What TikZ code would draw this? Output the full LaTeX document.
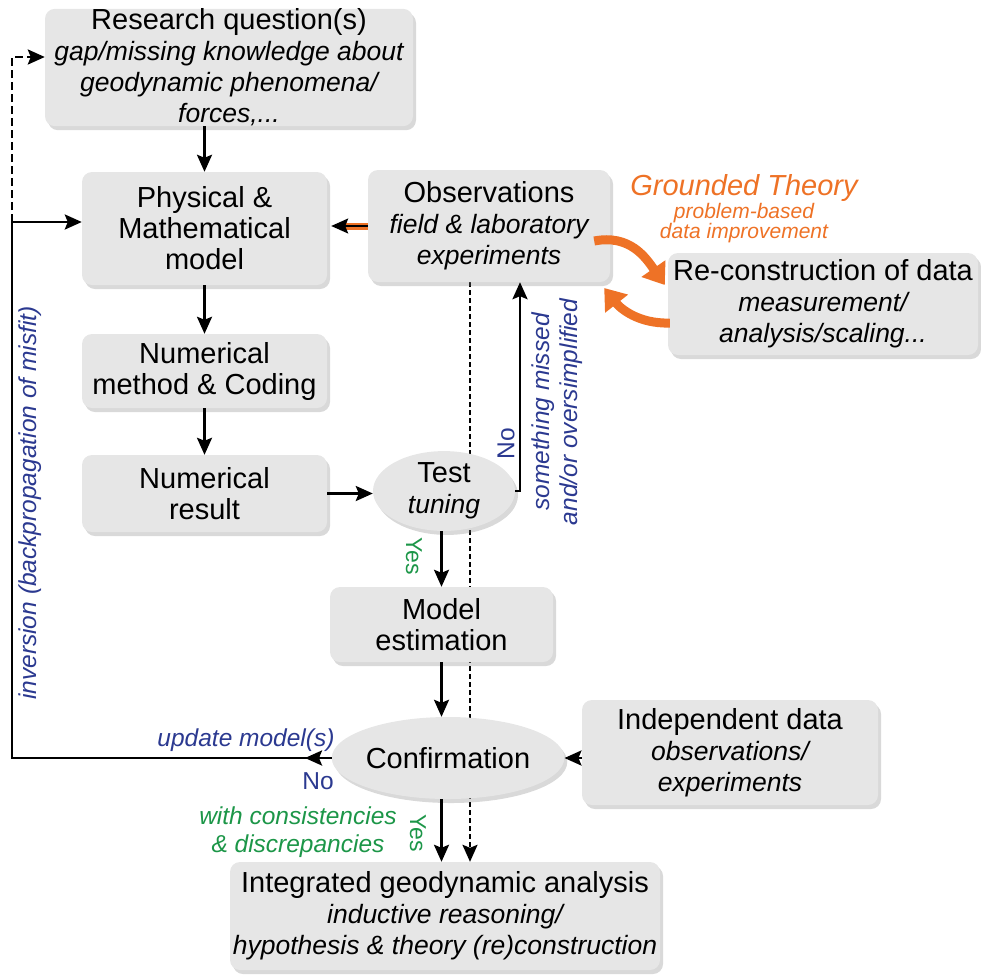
\documentclass[tikz,border=0pt]{standalone}
\usepackage{fontspec}
\setmainfont{Liberation Sans}
\usetikzlibrary{shapes.geometric,arrows.meta,shadows,backgrounds}
\definecolor{boxgray}{RGB}{230,230,230}
\definecolor{grorange}{RGB}{238,114,38}
\definecolor{lblblue}{RGB}{43,57,144}
\definecolor{lblgreen}{RGB}{28,150,72}
\newcommand{\mainsz}{\fontsize{29}{31}\selectfont}
\newcommand{\subln}[1]{{\itshape\fontsize{26.5}{30}\selectfont #1}}
\newcommand{\lblsz}{\fontsize{24.5}{28}\selectfont}

\begin{document}
\begin{tikzpicture}[x=1pt,y=-1pt]
    \tikzstyle{every node}+=[inner sep=0pt]
    \tikzstyle{gbox}=[fill=boxgray, rounded corners=10pt, align=center, font=\mainsz, drop shadow={shadow xshift=3pt, shadow yshift=-4pt, opacity=0.3}]
    \tikzstyle{goval}=[ellipse, fill=boxgray, align=center, font=\mainsz, drop shadow={shadow xshift=3pt, shadow yshift=-4pt, opacity=0.3}]
    \tikzstyle{flow}=[line width=2.6pt, -{Stealth[length=17pt,width=15pt,inset=3pt]}]
    \tikzstyle{bluelbl}=[text=lblblue, font=\lblsz\itshape]
    \tikzstyle{greenlbl}=[text=lblgreen, font=\lblsz\itshape]
    \useasboundingbox (0,0) rectangle (981,977);
    \node[gbox, minimum width=368, minimum height=111] (research) at (229,67.5) {Research question(s)\\\subln{gap/missing knowledge about}\\\subln{geodynamic phenomena/}\\\subln{forces,...}};
    \node[gbox, minimum width=245, minimum height=113] (phys) at (204.5,228.5) {Physical \&\\Mathematical\\model};
    \node[gbox, minimum width=242, minimum height=112] (obs) at (489,226) {Observations\\\subln{field \& laboratory}\\\subln{experiments}};
    \node[gbox, minimum width=310, minimum height=102] (recon) at (823,304) {Re-construction of data\\\subln{measurement/}\\\subln{analysis/scaling...}};
    \node[gbox, minimum width=245, minimum height=74] (nummeth) at (204.5,371) {Numerical\\method \& Coding};
    \node[gbox, minimum width=245, minimum height=77] (numres) at (204.5,493.5) {Numerical\\result};
    \node[goval, minimum width=142, minimum height=74] (test) at (444,491) {Test\\\subln{tuning}};
    \node[gbox, minimum width=223, minimum height=75] (modest) at (441.5,624.5) {Model\\estimation};
    \node[goval, minimum width=204, minimum height=82] (confirm) at (448,758) {Confirmation};
    \node[gbox, minimum width=296, minimum height=105] (indep) at (730,752.5) {Independent data\\\subln{observations/}\\\subln{experiments}};
    \node[gbox, minimum width=430, minimum height=108] (integ) at (445,916) {Integrated geodynamic analysis\\\subln{inductive reasoning/}\\\subln{hypothesis \& theory (re)construction}};
    \coordinate (misfit) at (305,758);
    \coordinate (loopcorner) at (12,758);
    \coordinate (dashfoot) at (12,222);
    \begin{scope}[on background layer]
    \draw[flow, line width=2.2pt, dash pattern=on 5pt off 3pt] ([xshift=-19pt]obs.south) -- ([xshift=-19pt]obs.south |- integ.north);
    \end{scope}
    \draw[flow] (phys.north |- research.south) -- (phys.north);
    \draw[flow] (phys) -- (nummeth);
    \draw[flow] (nummeth) -- (numres);
    \draw[flow] (numres.east) -- (numres.east -| test.west);
    \draw[flow] (test.east) -| ([xshift=31pt]obs.south);
    \draw[flow] (test.south -| modest.north) -- (modest.north);
    \draw[flow] (modest.south) -- (modest.south |- confirm.north);
    \draw[flow] (confirm.south -| modest.south) -- (modest.south |- integ.north);
    \draw[flow] (indep.west |- confirm.east) -- (confirm.east);
    \draw[flow] (confirm.west) -- (loopcorner) |- ([yshift=6.5pt]phys.west);
    \draw[flow] (confirm.west) -- (misfit);
    \draw[flow, dash pattern=on 8pt off 4pt] (dashfoot) |- ([yshift=10.5pt]research.west);
    \draw[grorange, line width=7pt, shorten >=14pt] (obs.west) -- ([xshift=4pt]obs.west -| phys.east);
    \draw[flow, line width=1.6pt] (obs.west) -- ([xshift=4pt]obs.west -| phys.east);
    \draw[grorange, line width=9pt, -{Triangle[length=20pt,width=28pt]}] ([xshift=-16pt,yshift=-15pt]obs.east) .. controls (630,234) and (646,258) .. ([xshift=-3pt,yshift=19pt]recon.west);
    \draw[grorange, line width=9pt, -{Triangle[length=20pt,width=28pt]}] ([xshift=2pt,yshift=-19pt]recon.west) .. controls (638,324) and (620,308) .. ([xshift=-6pt,yshift=-62pt]obs.east);
    \node[text=grorange, align=center, font=\itshape] (grounded) at (744,209) {{\fontsize{29}{31}\selectfont Grounded Theory}\\{\fontsize{21}{26}\selectfont problem-based}\\{\fontsize{21}{26}\selectfont data improvement}};
    \node[bluelbl] (updlbl) at (246,740) {update model(s)};
    \node[bluelbl, font=\lblsz] (confno) at (318,781) {No};
    \node[bluelbl, rotate=90] (invlbl) at (30,503) {inversion (backpropagation of misfit)};
    \node[bluelbl, rotate=90, align=center] (misslbl) at (557,412) {something missed\\and/or oversimplified};
    \node[bluelbl, font=\lblsz, rotate=90] (testno) at (506,444) {No};
    \node[greenlbl, font=\fontsize{23}{26}\selectfont, rotate=-90] (testyes) at (414,556) {Yes};
    \node[greenlbl, font=\fontsize{23}{26}\selectfont, rotate=-90] (confyes) at (418,833) {Yes};
    \node[greenlbl, align=center] (conslbl) at (298,832) {with consistencies\\\& discrepancies};
\end{tikzpicture}
\end{document}
